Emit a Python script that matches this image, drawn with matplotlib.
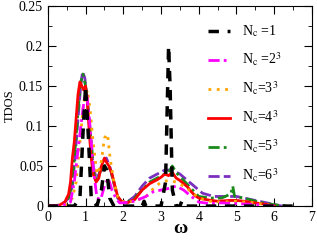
import matplotlib
matplotlib.use("Agg")
import matplotlib.pyplot as plt
from matplotlib.ticker import MultipleLocator

plt.rcParams['font.family'] = ['Liberation Serif', 'DejaVu Serif']
plt.rcParams['mathtext.fontset'] = 'stix'

# Nc = 1
w1 = [0.0, 0.7, 0.85, 0.93, 1.0, 1.07, 1.15, 1.3, 1.42, 1.5, 1.56, 1.64, 1.75, 2.0, 2.5, 2.55, 2.6,
      3.0, 3.12, 3.2, 3.24, 3.3, 3.4, 3.5, 3.55, 3.6, 4.0, 6.5]
d1 = [0.0, 0.0, 0.01, 0.09, 0.15, 0.09, 0.01, 0.0, 0.02, 0.05, 0.045, 0.01, 0.0, 0.0, 0.0, 0.006, 0.0,
      0.0, 0.03, 0.2, 0.15, 0.02, 0.0, 0.0, 0.006, 0.0, 0.0, 0.0]

# Nc = 2^3
w2 = [0.0, 0.4, 0.6, 0.7, 0.8, 0.9, 0.97, 1.03, 1.1, 1.2, 1.3, 1.4, 1.5, 1.6, 1.7, 1.8, 1.9, 2.0,
      2.3, 2.6, 2.8, 3.0, 3.2, 3.4, 3.6, 3.8, 4.0, 4.3, 4.6, 5.0, 5.5, 6.0]
d2 = [0.0, 0.001, 0.005, 0.03, 0.07, 0.11, 0.135, 0.14, 0.11, 0.05, 0.01, 0.008, 0.025, 0.035, 0.02,
      0.01, 0.004, 0.004, 0.006, 0.012, 0.018, 0.02, 0.022, 0.025, 0.02, 0.012, 0.005, 0.003, 0.004,
      0.003, 0.002, 0.0]

# Nc = 3^3
w3 = [0.0, 0.5, 0.65, 0.75, 0.85, 0.95, 1.05, 1.12, 1.2, 1.3, 1.4, 1.5, 1.58, 1.65, 1.75, 1.85, 2.0,
      2.3, 2.6, 2.8, 3.0, 3.2, 3.4, 3.6, 3.8, 4.0, 4.3, 4.6, 5.0, 5.5, 6.0]
d3 = [0.0, 0.002, 0.01, 0.03, 0.08, 0.13, 0.145, 0.12, 0.08, 0.04, 0.05, 0.085, 0.09, 0.06, 0.03,
      0.012, 0.005, 0.006, 0.012, 0.022, 0.03, 0.032, 0.03, 0.025, 0.018, 0.01, 0.006, 0.005, 0.006,
      0.004, 0.0]

# Nc = 4^3
w4 = [0.0, 0.3, 0.45, 0.55, 0.6, 0.65, 0.7, 0.75, 0.8, 0.85, 0.9, 0.95, 1.0, 1.05, 1.1, 1.15, 1.2,
      1.28, 1.35, 1.42, 1.5, 1.55, 1.62, 1.7, 1.78, 1.85, 1.95, 2.1, 2.3, 2.5, 2.7, 2.9, 3.0, 3.1,
      3.2, 3.3, 3.4, 3.5, 3.6, 3.7, 3.8, 3.9, 4.0, 4.2, 4.5, 4.8, 5.0, 5.2, 5.5, 5.8, 6.0]
d4 = [0.0, 0.001, 0.005, 0.015, 0.03, 0.06, 0.08, 0.11, 0.14, 0.155, 0.15, 0.145, 0.15, 0.13, 0.09,
      0.06, 0.04, 0.03, 0.035, 0.05, 0.06, 0.055, 0.05, 0.04, 0.025, 0.012, 0.006, 0.004, 0.008,
      0.02, 0.028, 0.033, 0.036, 0.04, 0.038, 0.042, 0.035, 0.032, 0.028, 0.024, 0.018, 0.013, 0.01,
      0.008, 0.006, 0.007, 0.007, 0.006, 0.004, 0.002, 0.0]

# Nc = 5^3
w5 = [0.0, 0.3, 0.45, 0.55, 0.65, 0.72, 0.8, 0.87, 0.93, 1.0, 1.07, 1.15, 1.22, 1.3, 1.4, 1.5, 1.58,
      1.66, 1.75, 1.85, 1.95, 2.1, 2.3, 2.5, 2.7, 2.9, 3.1, 3.2, 3.3, 3.4, 3.6, 3.8, 4.0, 4.3, 4.6,
      4.85, 4.9, 4.95, 5.2, 5.5, 5.8, 6.1, 6.4]
d5 = [0.0, 0.001, 0.004, 0.01, 0.03, 0.07, 0.12, 0.155, 0.165, 0.15, 0.12, 0.08, 0.04, 0.03, 0.045,
      0.05, 0.052, 0.045, 0.03, 0.012, 0.005, 0.005, 0.01, 0.02, 0.03, 0.035, 0.04, 0.042, 0.05,
      0.042, 0.032, 0.022, 0.012, 0.01, 0.01, 0.015, 0.025, 0.012, 0.01, 0.006, 0.003, 0.001, 0.0]

# Nc = 6^3
w6 = [0.0, 0.3, 0.45, 0.55, 0.65, 0.72, 0.8, 0.87, 0.92, 0.98, 1.05, 1.12, 1.2, 1.28, 1.36, 1.45,
      1.55, 1.65, 1.75, 1.85, 1.95, 2.1, 2.3, 2.5, 2.7, 2.9, 3.1, 3.3, 3.5, 3.7, 3.9, 4.1, 4.4, 4.7,
      5.0, 5.3, 5.6, 5.9, 6.2]
d6 = [0.0, 0.001, 0.005, 0.01, 0.025, 0.06, 0.11, 0.15, 0.168, 0.16, 0.13, 0.09, 0.05, 0.035, 0.04,
      0.055, 0.06, 0.048, 0.028, 0.01, 0.005, 0.005, 0.012, 0.025, 0.035, 0.04, 0.045, 0.045, 0.04,
      0.032, 0.024, 0.016, 0.012, 0.012, 0.012, 0.009, 0.006, 0.003, 0.0]

labels = [r'N$_{\rm c}$ =1', r'N$_{\rm c}$ =2$^3$', r'N$_{\rm c}$=3$^3$',
          r'N$_{\rm c}$=4$^3$', r'N$_{\rm c}$=5$^3$', r'N$_{\rm c}$=6$^3$']

fig = plt.figure(figsize=(3.17, 2.41), dpi=100)
ax = fig.add_axes([0.151, 0.145, 0.833, 0.83])

ax.plot(w6, d6, color='#7b2fbe', lw=2, ls=(0, (4, 1.5)), label=labels[5], zorder=2)
ax.plot(w5, d5, color='#1a8a1a', lw=2, ls=(0, (4, 1.5, 1, 1.5)), label=labels[4], zorder=3)
ax.plot(w4, d4, color='#ff0000', lw=2, ls='-', label=labels[3], zorder=4)
ax.plot(w3, d3, color='#ffa500', lw=2, ls=(0, (1, 2)), label=labels[2], zorder=5)
ax.plot(w2, d2, color='#ff00ff', lw=2, ls=(0, (4, 1.5, 1, 1.5)), label=labels[1], zorder=6)
ax.plot(w1, d1, color='black', lw=2.5, ls=(0, (3, 2.5)), label=labels[0], zorder=7)

ax.set_xlim(0, 7)
ax.set_ylim(0, 0.25)
ax.xaxis.set_major_locator(MultipleLocator(1))
ax.xaxis.set_minor_locator(MultipleLocator(0.5))
ax.yaxis.set_minor_locator(MultipleLocator(0.025))
ax.set_yticks([0, 0.05, 0.1, 0.15, 0.2, 0.25])
ax.set_yticklabels(['0', '0.05', '0.1', '0.15', '0.2', '0.25'])
ax.tick_params(which='both', direction='in', top=True, right=True, labelsize=10)
ax.tick_params(which='major', length=6)
ax.tick_params(which='minor', length=3)
ax.set_ylabel('TDOS', fontsize=9, labelpad=2)
ax.set_xlabel('ω', fontsize=14, fontweight='bold', labelpad=-3)

handles, labs = ax.get_legend_handles_labels()
ax.legend(handles[::-1], labs[::-1], loc='upper left', bbox_to_anchor=(0.56, 0.975),
          frameon=False, fontsize=10, handlelength=1.6, handletextpad=0.8, labelspacing=0.82)

fig.savefig('out.png', dpi=100)
